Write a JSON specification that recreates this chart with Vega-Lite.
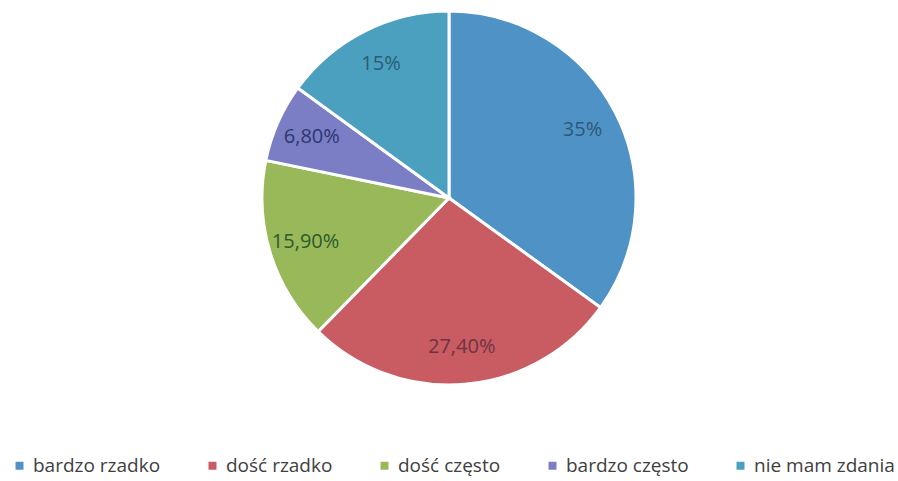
{
  "$schema": "https://vega.github.io/schema/vega-lite/v6.json",
  "width": 898,
  "height": 396,
  "autosize": {"type": "none"},
  "padding": {"top": 0, "left": 0, "right": 0, "bottom": 85},
  "background": "white",
  "data": {
    "values": [
      {"idx": 1, "cat": "bardzo rzadko", "value": 35, "label": "35%"},
      {"idx": 2, "cat": "dość rzadko", "value": 27.4, "label": "27,40%"},
      {"idx": 3, "cat": "dość często", "value": 15.9, "label": "15,90%"},
      {"idx": 4, "cat": "bardzo często", "value": 6.8, "label": "6,80%"},
      {"idx": 5, "cat": "nie mam zdania", "value": 15, "label": "15%"}
    ]
  },
  "encoding": {
    "theta": {"field": "value", "type": "quantitative", "stack": true},
    "order": {"field": "idx", "type": "quantitative"}
  },
  "layer": [
    {
      "mark": {"type": "arc", "outerRadius": 187, "stroke": "white", "strokeWidth": 3},
      "encoding": {
        "color": {
          "field": "cat",
          "type": "nominal",
          "scale": {
            "domain": ["bardzo rzadko", "dość rzadko", "dość często", "bardzo często", "nie mam zdania"],
            "range": ["#4f93c6", "#c95b63", "#98b85a", "#7b7ec4", "#4aa0be"]
          },
          "legend": {
            "orient": "none",
            "legendX": 10,
            "legendY": 456,
            "direction": "horizontal",
            "title": null,
            "symbolType": "square",
            "symbolSize": 64,
            "symbolStrokeWidth": 0,
            "labelFont": "Open Sans",
            "labelFontSize": 19,
            "labelColor": "#404040",
            "labelOffset": 4,
            "columnPadding": 42,
            "labelLimit": 300
          }
        }
      }
    },
    {
      "mark": {"type": "text", "radius": 150, "font": "Open Sans", "fontSize": 20},
      "encoding": {
        "text": {"field": "label", "type": "nominal"},
        "color": {
          "field": "cat",
          "type": "nominal",
          "scale": {
            "domain": ["bardzo rzadko", "dość rzadko", "dość często", "bardzo często", "nie mam zdania"],
            "range": ["#2f5878", "#6e3442", "#2f5a2c", "#2d3770", "#2a5c78"]
          },
          "legend": null
        }
      }
    }
  ],
  "resolve": {"scale": {"color": "independent"}}
}
